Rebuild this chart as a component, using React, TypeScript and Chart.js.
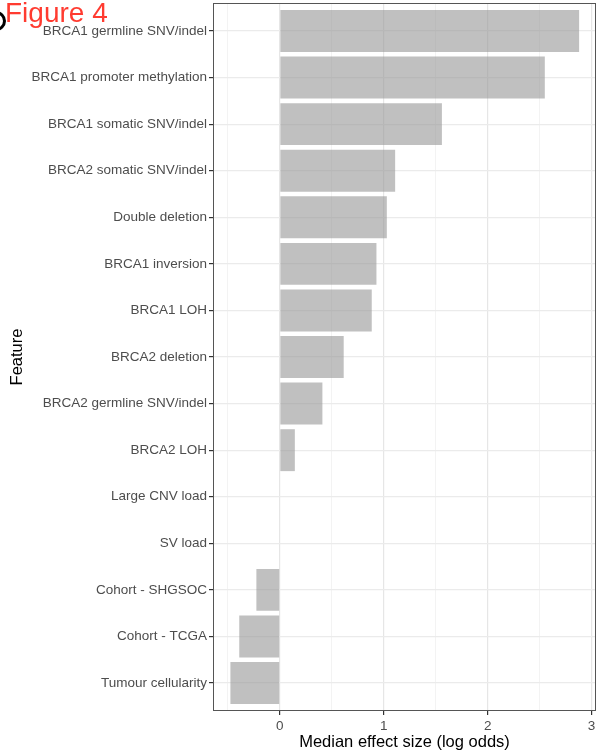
import React, { useEffect, useRef } from "react";
import { Chart, registerables } from "chart.js";

Chart.register(...registerables);

const features: string[] = [
  "BRCA1 germline SNV/indel",
  "BRCA1 promoter methylation",
  "BRCA1 somatic SNV/indel",
  "BRCA2 somatic SNV/indel",
  "Double deletion",
  "BRCA1 inversion",
  "BRCA1 LOH",
  "BRCA2 deletion",
  "BRCA2 germline SNV/indel",
  "BRCA2 LOH",
  "Large CNV load",
  "SV load",
  "Cohort - SHGSOC",
  "Cohort - TCGA",
  "Tumour cellularity",
];

const effects: number[] = [
  2.88, 2.55, 1.56, 1.11, 1.03, 0.93, 0.885, 0.615, 0.41, 0.145, 0, 0, -0.225,
  -0.39, -0.475,
];

const xTicks: number[] = [-0.5, 0, 0.5, 1, 1.5, 2, 2.5, 3];
const xLabeled: number[] = [0, 1, 2, 3];

const X_MIN = -0.6425;
const X_MAX = 3.0425;

const FONT = "'Liberation Sans', Arial, Helvetica, sans-serif";

const panelBorder = {
  id: "panelBorder",
  afterDraw(chart: any) {
    const { ctx, chartArea } = chart;
    ctx.save();
    ctx.strokeStyle = "#555555";
    ctx.lineWidth = 1;
    ctx.strokeRect(
      Math.round(chartArea.left) + 0.5,
      Math.round(chartArea.top) + 0.5,
      Math.round(chartArea.right - chartArea.left) - 1,
      Math.round(chartArea.bottom - chartArea.top) - 1
    );
    ctx.restore();
  },
};

export default function App() {
  const ref = useRef<HTMLCanvasElement | null>(null);

  useEffect(() => {
    document.body.style.margin = "0";
    if (!ref.current) return;
    const chart = new Chart(ref.current, {
      type: "bar",
      data: {
        datasets: [
          {
            data: effects.map((v, i) => ({ x: v, y: i })),
            backgroundColor: "rgba(150,150,150,0.6)",
            borderWidth: 0,
            categoryPercentage: 0.9,
            barPercentage: 1,
          } as any,
        ],
      },
      plugins: [panelBorder],
      options: {
        responsive: false,
        animation: false,
        indexAxis: "y",
        layout: { padding: { left: 0, top: 3, right: 4, bottom: 0 } },
        plugins: {
          legend: { display: false },
          tooltip: { enabled: false },
        },
        scales: {
          x: {
            type: "linear",
            min: X_MIN,
            max: X_MAX,
            offset: false,
            afterBuildTicks: (s: any) => {
              s.ticks = xTicks.map((v) => ({ value: v }));
            },
            afterFit: (s: any) => {
              s.height = 43;
              s.paddingLeft = 0;
              s.paddingRight = 0;
            },
            ticks: {
              autoSkip: false,
              maxRotation: 0,
              padding: 3,
              color: "#4d4d4d",
              font: { family: FONT, size: 13.5 },
              callback: (v: any) => (xLabeled.includes(Number(v)) ? String(v) : ""),
            },
            grid: {
              offset: false,
              color: (c: any) =>
                Number.isInteger(c.tick?.value) ? "#e6e6e6" : "#f3f3f3",
              lineWidth: (c: any) => (Number.isInteger(c.tick?.value) ? 1.2 : 1),
              tickColor: (c: any) =>
                Number.isInteger(c.tick?.value) ? "#333333" : "rgba(0,0,0,0)",
              tickLength: 4,
            },
            border: { display: false },
            title: {
              display: true,
              text: "Median effect size (log odds)",
              color: "#000000",
              font: { family: FONT, size: 16.5 },
              padding: { top: 0, bottom: 2 },
            },
          },
          y: {
            type: "linear",
            reverse: true,
            offset: false,
            min: -0.6,
            max: features.length - 1 + 0.6,
            afterBuildTicks: (s: any) => {
              s.ticks = features.map((_, i) => ({ value: i }));
            },
            afterFit: (s: any) => {
              s.width = 213;
              s.paddingTop = 0;
              s.paddingBottom = 0;
            },
            ticks: {
              autoSkip: false,
              padding: 2,
              color: "#4d4d4d",
              font: { family: FONT, size: 13.5 },
              callback: (v: any) => features[Number(v)] ?? "",
            },
            grid: {
              offset: false,
              color: "#ebebeb",
              lineWidth: 1.2,
              tickColor: "#333333",
              tickLength: 4,
            },
            border: { display: false },
            title: {
              display: true,
              text: "Feature",
              color: "#000000",
              font: { family: FONT, size: 16.5 },
              padding: { top: 8, bottom: 0 },
            },
          },
        },
      } as any,
    });
    return () => chart.destroy();
  }, []);

  return (
    <div style={{ position: "absolute", left: 0, top: 0, width: 600, height: 754, background: "#fff" }}>
      <canvas ref={ref} width={600} height={754} style={{ display: "block" }} />
      <div
        style={{
          position: "absolute",
          left: -14,
          top: 11,
          width: 14,
          height: 14,
          border: "3px solid #000",
          borderRadius: "50%",
        }}
      />
      <div
        style={{
          position: "absolute",
          left: 5,
          top: -3,
          fontFamily: FONT,
          fontSize: 28,
          color: "#ff3b30",
          lineHeight: "32px",
          whiteSpace: "nowrap",
        }}
      >
        Figure 4
      </div>
    </div>
  );
}
